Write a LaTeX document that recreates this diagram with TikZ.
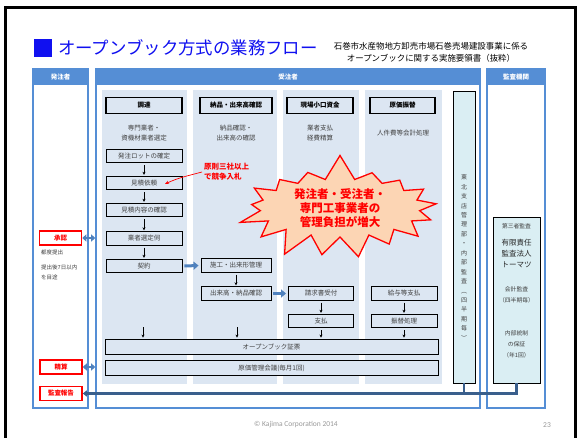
\documentclass[tikz,border=0pt]{standalone}
\usepackage{fontspec}
\setmainfont{Noto Sans CJK JP}
\newfontfamily\footfont{Carlito}
\usetikzlibrary{arrows.meta,shapes.symbols}
\definecolor{hdrblue}{HTML}{558ED5}
\definecolor{colbg}{HTML}{DCE6F2}
\definecolor{audbg}{HTML}{DAEEF3}
\definecolor{arrblue}{HTML}{4F81BD}
\definecolor{darkblue}{HTML}{3A5F8C}
\definecolor{burstfill}{HTML}{FCD5B4}
\definecolor{titleblue}{HTML}{1010F0}
\definecolor{txtgray}{HTML}{404040}
\begin{document}
\begin{tikzpicture}[x=1pt,y=-1pt,
  frame/.style={draw=hdrblue, line width=1.6pt, inner sep=0pt},
  hdr/.style={fill=hdrblue, text=white, font=\fontsize{6.5}{7}\selectfont\bfseries, inner sep=0pt, minimum height=16pt},
  colbox/.style={fill=colbg, inner sep=0pt, minimum height=294pt},
  stepbox/.style={draw=black, line width=0.9pt, fill=colbg, font=\fontsize{6.5}{7}\selectfont, text=txtgray, minimum height=13.5pt, inner sep=0pt},
  headbox/.style={draw=black, line width=1.6pt, fill=colbg, font=\fontsize{6.5}{7}\selectfont\bfseries, minimum height=16pt, inner sep=0pt},
  txt/.style={font=\fontsize{6.5}{7}\selectfont, inner sep=0pt, text=txtgray},
  smalltxt/.style={font=\fontsize{5.5}{6}\selectfont, inner sep=0pt, text=txtgray, anchor=west},
  redbox/.style={draw=red, line width=1.6pt, fill=white, text=red, font=\fontsize{6.5}{7}\selectfont\bfseries, minimum width=42pt, minimum height=14pt, inner sep=0pt},
  flow/.style={-{Stealth[length=3pt,width=3pt]}, line width=0.8pt, shorten <=2pt, shorten >=1pt},
  blockarrow/.style={-{Triangle[length=5pt,width=8pt]}, line width=3pt, arrblue, shorten <=2pt, shorten >=2pt},
  dblarrow/.style={{Triangle[length=4pt,width=7pt]}-{Triangle[length=4pt,width=7pt]}, line width=2.5pt, arrblue},
  monline/.style={draw=darkblue, line width=2.5pt},
  audbox/.style={draw=black, line width=0.9pt, fill=audbg, inner sep=0pt}
]
\useasboundingbox (0,0) rectangle (579,437);
\fill[white] (0,0) rectangle (579,437);
% page border
\draw[line width=3pt] (5,440) -- (5,7) -- (575,7) -- (575,440);

% title
\fill[titleblue] (34,38.5) rectangle (52,56.5);
\node[anchor=west, inner sep=0pt, text=titleblue, font=\fontsize{17.4}{18}\selectfont] (title) at (58,47.5) {オープンブック方式の業務フロー};
\node[align=center, inner sep=0pt, font=\fontsize{8.45}{12}\selectfont] (subtitle) at (431,52.5) {石巻市水産物地方卸売市場石巻売場建設事業に係る\\オープンブックに関する実施要領書（抜粋）};

% outer frames
\node[frame, minimum width=55pt, minimum height=339pt] (lframe) at (60.5,238.5) {};
\node[frame, minimum width=384pt, minimum height=339pt] (mframe) at (288,238.5) {};
\node[frame, minimum width=58pt, minimum height=339pt] (rframe) at (516,238.5) {};
\node[hdr, minimum width=55pt] (lhdr) at (60.5,77) {発注者};
\node[hdr, minimum width=384pt] (mhdr) at (288,77) {受注者};
\node[hdr, minimum width=58pt] (rhdr) at (516,77) {監査機関};

% columns
\node[colbox, minimum width=85pt] (c1) at (144.5,237) {};
\node[colbox, minimum width=84pt] (c2) at (235,237) {};
\node[colbox, minimum width=76pt] (c3) at (321,237) {};
\node[colbox, minimum width=77pt] (c4) at (403.5,237) {};

% column headers
\node[headbox, minimum width=76pt] (h1) at (144,105.5) {調達};
\node[headbox, minimum width=72pt] (h2) at (236,105.5) {納品・出来高確認};
\node[headbox, minimum width=66pt] (h3) at (320,105.5) {現場小口資金};
\node[headbox, minimum width=65pt] (h4) at (402.5,105.5) {原価振替};

% descriptions
\node[txt, align=center, font=\fontsize{6.5}{10}\selectfont] (d1) at (144,133) {専門業者・\\資機材業者選定};
\node[txt, align=center, font=\fontsize{6.5}{10}\selectfont] (d2) at (236,133) {納品確認・\\出来高の確認};
\node[txt, align=center, font=\fontsize{6.5}{10}\selectfont] (d3) at (320,133) {業者支払\\経費精算};
\node[txt] (d4) at (403,133) {人件費等会計処理};

% column 1 steps
\node[stepbox, minimum width=76pt] (s11) at (144,156) {発注ロットの確定};
\node[stepbox, minimum width=76pt] (s12) at (144,183) {見積依頼};
\node[stepbox, minimum width=76pt] (s13) at (144,210) {見積内容の確認};
\node[stepbox, minimum width=76pt] (s14) at (144,238.5) {業者選定伺};
\node[stepbox, minimum width=76pt] (s15) at (144,266) {契約};
\draw[flow] (s11) -- (s12);
\draw[flow] (s12) -- (s13);
\draw[flow] (s13) -- (s14);
\draw[flow] (s14) -- (s15);

% column 2 steps
\node[stepbox, minimum width=70pt] (s21) at (236,265.5) {施工・出来形管理};
\node[stepbox, minimum width=70pt] (s22) at (236,293.5) {出来高・納品確認};
\draw[flow] (s21) -- (s22);

% column 3 steps
\node[stepbox, minimum width=65pt] (s31) at (321,293.5) {請求書受付};
\node[stepbox, minimum width=65pt] (s32) at (321,321) {支払};
\draw[flow] (s31) -- (s32);

% column 4 steps
\node[stepbox, minimum width=66pt] (s41) at (404,293.5) {給与等支払};
\node[stepbox, minimum width=66pt] (s42) at (404,321) {振替処理};
\draw[flow] (s41) -- (s42);

% block arrows
\draw[blockarrow] (s15.east) -- (s21.west);
\draw[blockarrow] (s22.east) -- (s31.west);

% wide boxes
\node[stepbox, minimum width=333pt, minimum height=15pt] (ob) at (271.5,346.5) {オープンブック証票};
\node[stepbox, minimum width=333pt, minimum height=15pt] (cm) at (271.5,368) {原価管理会議(毎月1回)};
\coordinate (e1) at (143,327);
\coordinate (e2) at (237,327);
\draw[flow, shorten <=0pt] (e1) -- (e1 |- ob.north);
\draw[flow, shorten <=0pt] (e2) -- (e2 |- ob.north);
\draw[flow] (s32.south) -- (s32.south |- ob.north);
\draw[flow] (s42.south) -- (s42.south |- ob.north);

% callout
\node[anchor=west, inner sep=0pt, align=left, text=red, font=\fontsize{7.5}{10}\selectfont\bfseries] (callout) at (204,172) {原則三社以上\\で競争入札};
\coordinate (ce) at (165,184);
\draw[red, line width=0.7pt, -{Stealth[length=4pt,width=3.5pt]}] ([xshift=-2pt]callout.west) to[out=195, in=25] (ce);

% starburst
\node[starburst, draw=red, fill=burstfill, line width=1.3pt, minimum width=212pt, minimum height=110pt,
      starburst points=17, starburst point height=26pt, random starburst=7,
      align=center, text=red, font=\fontsize{11.5}{13.8}\selectfont\bfseries, inner sep=0pt] (burst) at (340,208)
      {発注者・受注者・\\専門工事業者の\\管理負担が増大};

% internal audit box
\node[audbox, minimum width=22pt, minimum height=292pt] (tohoku) at (464,237) {};
\node[inner sep=0pt, align=center, text=txtgray, font=\fontsize{6}{9.45}\selectfont] (tohokutxt) at (464,257.5)
  {東\\北\\支\\店\\管\\理\\部\\・\\内\\部\\監\\査\\︵\\四\\半\\期\\毎\\︶};

% third party audit box
\node[audbox, minimum width=47pt, minimum height=166pt] (third) at (516.5,300) {};
\node[txt, font=\fontsize{5.8}{7}\selectfont] (t1) at (516.5,226) {第三者監査};
\node[txt, align=center, text=black!85, font=\fontsize{7.5}{11}\selectfont] (t2) at (516.5,254) {有限責任\\監査法人\\トーマツ};
\node[txt, align=center, font=\fontsize{5.8}{11}\selectfont] (t3) at (516.5,294.5) {会計監査\\（四半期毎）};
\node[txt, align=center, font=\fontsize{5.8}{11}\selectfont] (t4) at (516.5,344) {内部統制\\の保証\\（年1回）};

% red boxes on the client side
\node[redbox] (approve) at (60.5,238) {承認};
\node[smalltxt] (n1) at (41,252) {都度提出};
\node[smalltxt] (n2) at (41,267) {提出後7日以内};
\node[smalltxt] (n3) at (41,277) {を目途};
\node[redbox] (settle) at (61,367) {精算};
\node[redbox] (report) at (61,393.5) {監査報告};
\draw[dblarrow] (approve.east) -- (approve.east -| mframe.west);
\draw[dblarrow] (settle.east) -- (settle.east -| mframe.west);

% audit reporting lines
\draw[monline] (tohoku.south) -- (tohoku.south |- report.east);
\draw[monline, -{Triangle[length=4pt,width=6pt]}] (third.south) -- (third.south |- report.east) -- (report.east);

% footer
\node[inner sep=0pt, text=gray!80, font=\footfont\fontsize{7.5}{8}\selectfont] (foot) at (296,425) {© Kajima Corporation 2014};
\node[inner sep=0pt, text=gray!80, font=\footfont\fontsize{7.5}{8}\selectfont] (page) at (547,425) {23};
\end{tikzpicture}
\end{document}
